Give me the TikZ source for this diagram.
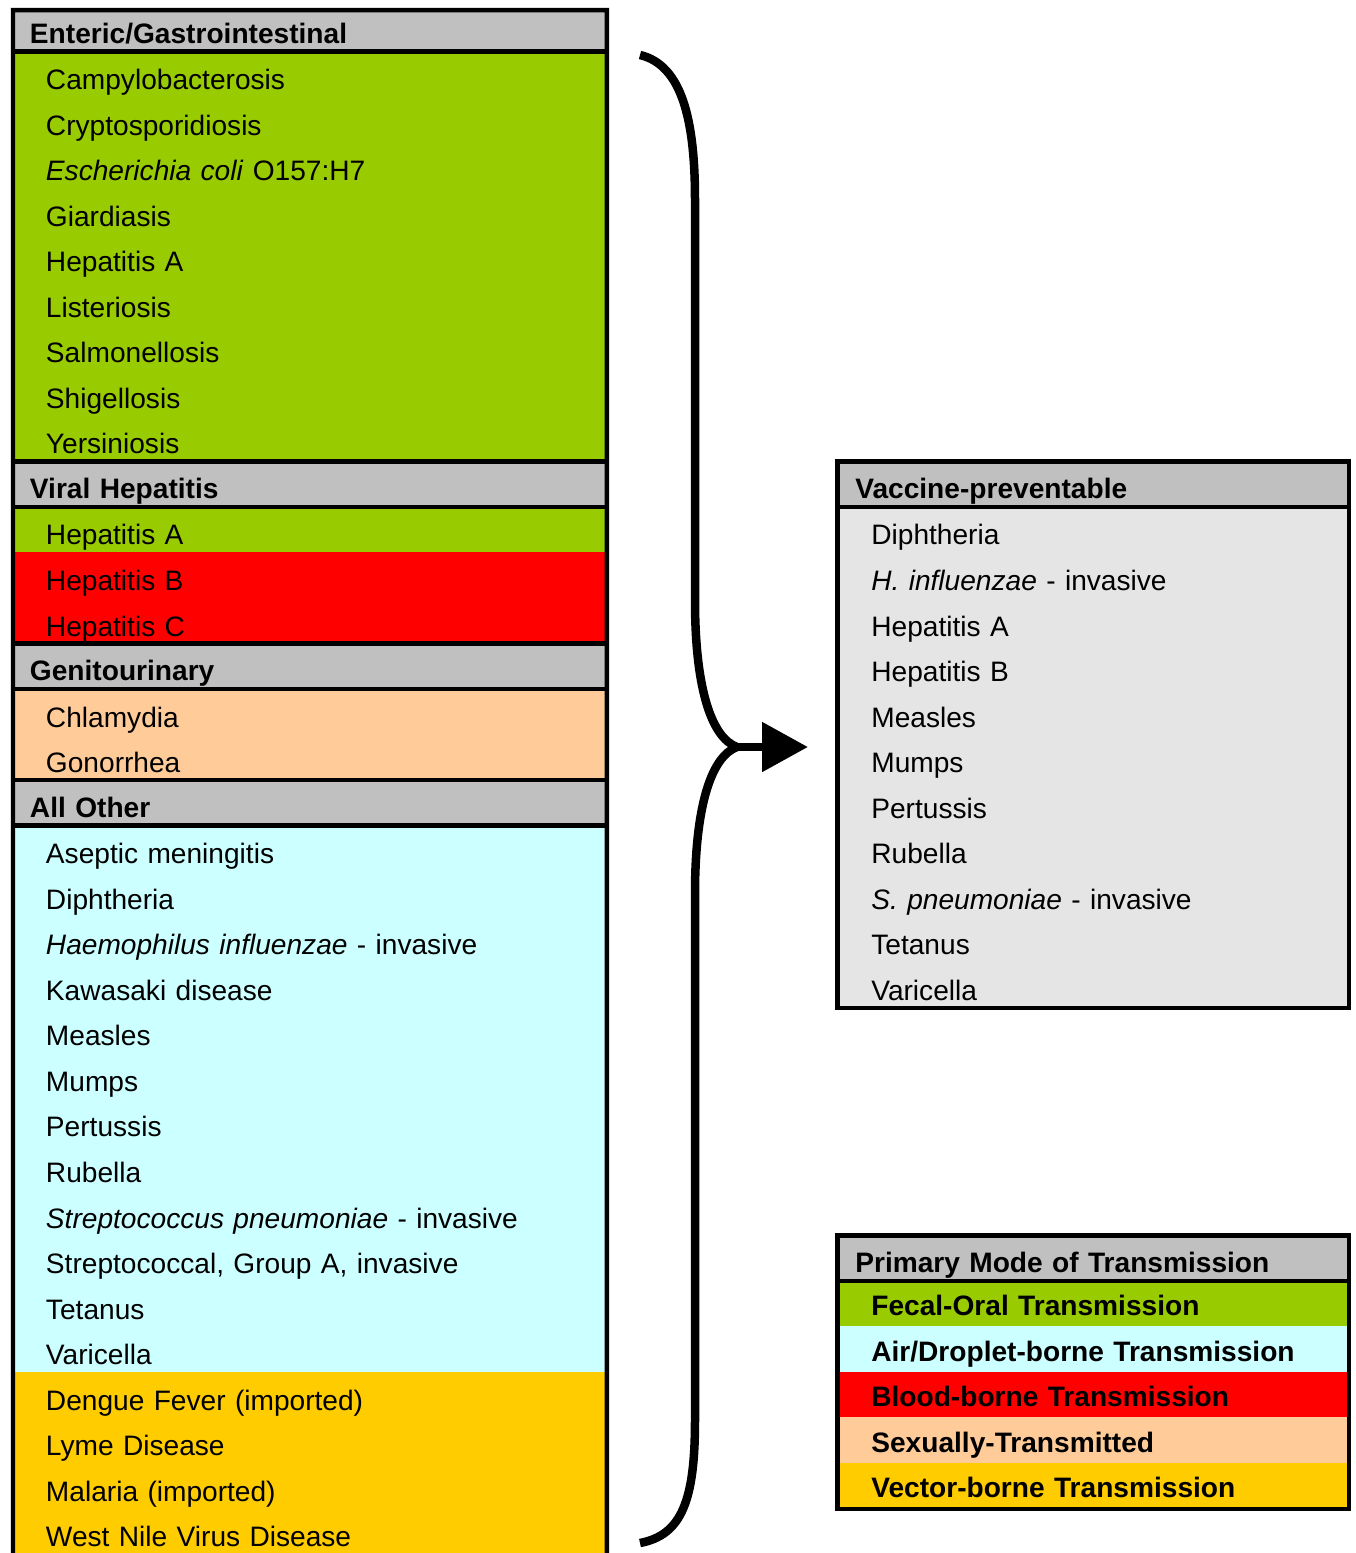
\documentclass[tikz,border=0pt]{standalone}
\usepackage{fontspec}
\setmainfont{Liberation Sans}
\usetikzlibrary{arrows.meta,positioning}
\definecolor{fecal}{HTML}{99CC00}
\definecolor{air}{HTML}{CCFFFF}
\definecolor{blood}{HTML}{FF0000}
\definecolor{sexual}{HTML}{FFCC99}
\definecolor{vector}{HTML}{FFCC00}
\definecolor{hdr}{HTML}{C0C0C0}
\definecolor{vac}{HTML}{E5E5E5}
\newcommand\rowfont{\fontsize{16}{19}\selectfont}
\newcommand\headfont{\fontsize{16}{19}\selectfont\bfseries}
\tikzset{
  band/.style={rectangle, fill=#1, draw=#1, line width=0.4pt, outer sep=0pt, inner ysep=0pt,
               minimum height=0.911cm, text height=0.761cm, text depth=0.15cm, align=left, font=\rowfont},
  lrow/.style={band=#1, inner xsep=0.66cm, text width=10.56cm},
  lhead/.style={band=hdr, inner xsep=0.34cm, text width=11.2cm, font=\headfont,
                text height=0.741cm, text depth=0.17cm},
  rrow/.style={band=#1, inner xsep=0.68cm, text width=8.88cm},
  rhead/.style={band=hdr, inner xsep=0.36cm, text width=9.52cm, font=\headfont,
                text height=0.741cm, text depth=0.17cm},
  keyrow/.style={rrow=#1, font=\headfont, text height=0.691cm, text depth=0.22cm},
  panel/.style={draw=black, line width=0.09cm, line join=miter},
  divider/.style={draw=black, line width=0.09cm},
  curl/.style={draw=black, line width=0.17cm, line join=round},
  pointer/.style={-{Triangle[length=0.92cm, width=0.96cm]}, line width=0.17cm, draw=black},
}
\begin{document}
\begin{tikzpicture}[x=0.02cm, y=-0.02cm]
\useasboundingbox (0,0) rectangle (1356,1553);

% reportable diseases, by group
\node[lhead, minimum height=0.83cm, text height=0.66cm, text depth=0.17cm, anchor=north west] (enthead) at (13,10) {Enteric/Gastrointestinal};
\node[lrow=fecal, below=0pt of enthead] (campy) {Campylobacterosis};
\node[lrow=fecal, below=0pt of campy] (crypto) {Cryptosporidiosis};
\node[lrow=fecal, below=0pt of crypto] (ecoli) {\textit{Escherichia coli} O157:H7};
\node[lrow=fecal, below=0pt of ecoli] (giard) {Giardiasis};
\node[lrow=fecal, below=0pt of giard] (hepa) {Hepatitis A};
\node[lrow=fecal, below=0pt of hepa] (lister) {Listeriosis};
\node[lrow=fecal, below=0pt of lister] (salmon) {Salmonellosis};
\node[lrow=fecal, below=0pt of salmon] (shig) {Shigellosis};
\node[lrow=fecal, below=0pt of shig] (yers) {Yersiniosis};
\node[lhead, below=0pt of yers] (virhead) {Viral Hepatitis};
\node[lrow=fecal, below=0pt of virhead] (vira) {Hepatitis A};
\node[lrow=blood, below=0pt of vira] (virb) {Hepatitis B};
\node[lrow=blood, below=0pt of virb] (virc) {Hepatitis C};
\node[lhead, below=0pt of virc] (genhead) {Genitourinary};
\node[lrow=sexual, below=0pt of genhead] (chlam) {Chlamydia};
\node[lrow=sexual, below=0pt of chlam] (gono) {Gonorrhea};
\node[lhead, below=0pt of gono] (othhead) {All Other};
\node[lrow=air, below=0pt of othhead] (asep) {Aseptic meningitis};
\node[lrow=air, below=0pt of asep] (diph) {Diphtheria};
\node[lrow=air, below=0pt of diph] (haem) {\textit{Haemophilus influenzae} - invasive};
\node[lrow=air, below=0pt of haem] (kawa) {Kawasaki disease};
\node[lrow=air, below=0pt of kawa] (meas) {Measles};
\node[lrow=air, below=0pt of meas] (mumps) {Mumps};
\node[lrow=air, below=0pt of mumps] (pert) {Pertussis};
\node[lrow=air, below=0pt of pert] (rub) {Rubella};
\node[lrow=air, below=0pt of rub] (spneu) {\textit{Streptococcus pneumoniae} - invasive};
\node[lrow=air, below=0pt of spneu] (strepa) {Streptococcal, Group A, invasive};
\node[lrow=air, below=0pt of strepa] (tet) {Tetanus};
\node[lrow=air, below=0pt of tet] (vari) {Varicella};
\node[lrow=vector, below=0pt of vari] (deng) {Dengue Fever (imported)};
\node[lrow=vector, below=0pt of deng] (lyme) {Lyme Disease};
\node[lrow=vector, below=0pt of lyme] (mal) {Malaria (imported)};
\node[lrow=vector, below=0pt of mal] (wnv) {West Nile Virus Disease};

% vaccine-preventable subset
\node[rhead, right=4.61cm of virhead] (vachead) {Vaccine-preventable};
\node[rrow=vac, below=0pt of vachead] (vacdiph) {Diphtheria};
\node[rrow=vac, below=0pt of vacdiph] (vachinf) {\textit{H. influenzae} - invasive};
\node[rrow=vac, below=0pt of vachinf] (vachepa) {Hepatitis A};
\node[rrow=vac, below=0pt of vachepa] (vachepb) {Hepatitis B};
\node[rrow=vac, below=0pt of vachepb] (vacmeas) {Measles};
\node[rrow=vac, below=0pt of vacmeas] (vacmumps) {Mumps};
\node[rrow=vac, below=0pt of vacmumps] (vacpert) {Pertussis};
\node[rrow=vac, below=0pt of vacpert] (vacrub) {Rubella};
\node[rrow=vac, below=0pt of vacrub] (vacspn) {\textit{S. pneumoniae} - invasive};
\node[rrow=vac, below=0pt of vacspn] (vactet) {Tetanus};
\node[rrow=vac, below=0pt of vactet] (vacvar) {Varicella};

% legend
\node[rhead, right=4.61cm of strepa] (modehead) {Primary Mode of Transmission};
\node[keyrow=fecal, below=0pt of modehead] (keyfecal) {Fecal-Oral Transmission};
\node[keyrow=air, below=0pt of keyfecal] (keyair) {Air/Droplet-borne Transmission};
\node[keyrow=blood, below=0pt of keyair] (keyblood) {Blood-borne Transmission};
\node[keyrow=sexual, below=0pt of keyblood] (keysex) {Sexually-Transmitted};
\node[keyrow=vector, below=0pt of keysex] (keyvector) {Vector-borne Transmission};

% frames and group lines
\draw[panel] (wnv.south west) -- (enthead.north west) -- (enthead.north east) -- (wnv.south east);
\foreach \n in {enthead, yers, virhead, virc, genhead, gono, othhead}
  \draw[divider] (\n.south west) -- (\n.south east);
\draw[panel] (vachead.north west) rectangle (vacvar.south east);
\draw[divider] (vachead.south west) -- (vachead.south east);
\draw[panel] (modehead.north west) rectangle (keyvector.south east);
\draw[divider] (modehead.south west) -- (modehead.south east);

% brace and arrow
\coordinate (cusp) at (737,747);
\coordinate (tip) at (808,747);
\draw[curl] (640,55) .. controls (682,65) and (695,120) .. (695,200) -- (695,600)
  .. controls (695,690) and (712,738) .. (cusp)
  .. controls (712,756) and (695,804) .. (695,894) -- (695,1420)
  .. controls (695,1500) and (682,1535) .. (640,1543);
\draw[pointer] (cusp) -- (tip);
\end{tikzpicture}
\end{document}
